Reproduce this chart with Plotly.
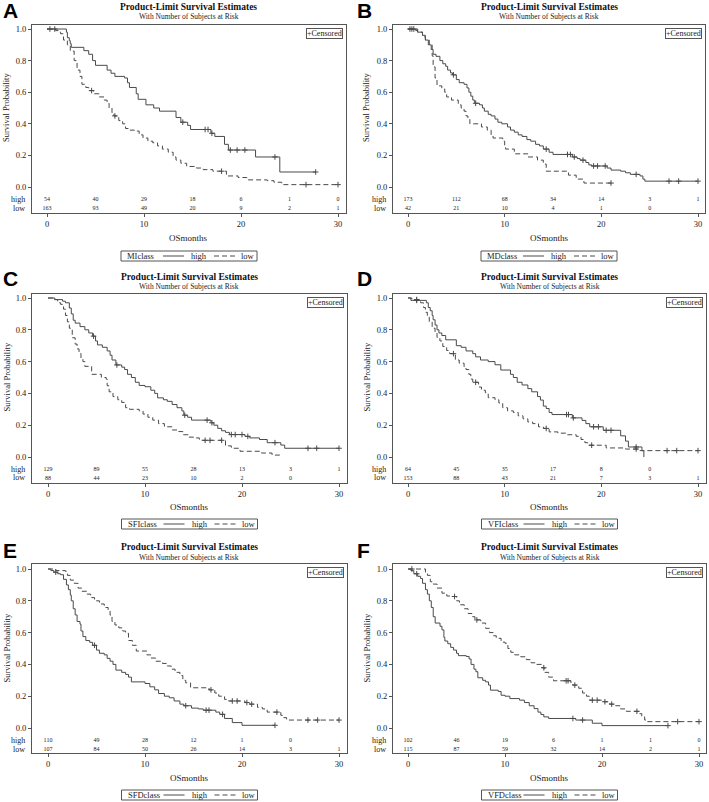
import plotly.graph_objects as go

W, H = 709, 802

# ---------------- data ----------------
panel_letters = ["A", "B", "C", "D", "E", "F"]
class_names = ["MIclass", "MDclass", "SFIclass", "VFIclass", "SFDclass", "VFDclass"]
group_labels = ["high", "low"]
risk_times = [0, 5, 10, 15, 20, 25, 30]
y_ticks = [0.0, 0.2, 0.4, 0.6, 0.8, 1.0]
x_ticks = [0, 10, 20, 30]

# Panel A (MIclass)
A_high_t = [2.0, 2.1, 2.3, 2.4, 2.5, 3.8, 4.3, 4.7, 5.0, 6.2, 6.6, 7.0, 8.0, 8.3, 8.5, 9.2, 9.4, 10.2, 11.0, 11.6,
            13.3, 13.8, 14.5, 14.8, 16.9, 17.3, 18.3, 18.7, 21.5, 24.0]
A_high_s = [0.98, 0.945, 0.926, 0.907, 0.884, 0.863, 0.84, 0.80, 0.77, 0.74, 0.72, 0.70, 0.69, 0.66, 0.63, 0.59, 0.555,
            0.52, 0.50, 0.48, 0.44, 0.41, 0.39, 0.364, 0.34, 0.32, 0.27, 0.234, 0.19, 0.095]
A_high_end = 27.7
A_high_cens = [0.3, 0.8, 14.0, 16.3, 16.6, 17.0, 18.9, 19.6, 20.4, 23.5, 27.7]
A_low_t = [0.9, 1.2, 1.4, 1.7, 2.1, 2.4, 2.8, 3.1, 3.4, 3.6, 4.0, 4.3, 4.8, 5.4, 5.9, 6.2, 6.4, 6.7, 6.9, 7.4, 7.8,
           8.1, 8.5, 9.0, 9.5, 9.9, 10.4, 10.9, 11.4, 11.9, 12.5, 13.0, 13.3, 13.8, 14.4, 15.4, 16.1, 17.1, 18.5,
           19.7, 20.6, 22.7, 23.4, 24.2]
A_low_s = [0.99, 0.98, 0.97, 0.93, 0.90, 0.86, 0.80, 0.74, 0.70, 0.65, 0.63, 0.61, 0.59, 0.57, 0.55, 0.53, 0.50, 0.47,
           0.45, 0.42, 0.40, 0.37, 0.36, 0.354, 0.33, 0.31, 0.29, 0.28, 0.26, 0.24, 0.22, 0.19, 0.17, 0.15, 0.13,
           0.12, 0.11, 0.10, 0.07, 0.06, 0.045, 0.04, 0.03, 0.015]
A_low_end = 30.0
A_low_cens = [4.6, 7.0, 18.0, 26.7, 30.0]
A_risk_high = [54, 40, 29, 18, 6, 1, 0]
A_risk_low = [163, 93, 49, 20, 9, 2, 1]

# Panel B (MDclass)
B_high_t = [0.8, 1.0, 1.5, 1.8, 2.1, 2.4, 2.6, 2.9, 3.3, 3.6, 3.9, 4.1, 4.4, 4.6, 5.0, 5.3, 5.8, 6.1, 6.3, 6.5, 6.7,
            6.9, 7.4, 7.7, 7.9, 8.3, 8.6, 9.0, 9.3, 9.7, 10.3, 10.6, 11.0, 11.4, 11.8, 12.3, 12.7, 13.2, 13.6, 14.0,
            14.6, 15.0, 17.0, 17.5, 17.8, 18.4, 18.7, 19.0, 20.6, 21.0, 22.0, 22.5, 23.0, 24.0, 24.3, 24.5]
B_high_s = [0.99, 0.98, 0.96, 0.93, 0.90, 0.87, 0.84, 0.827, 0.80, 0.78, 0.764, 0.74, 0.722, 0.71, 0.68, 0.66, 0.65,
            0.627, 0.60, 0.575, 0.55, 0.53, 0.52, 0.50, 0.48, 0.46, 0.45, 0.43, 0.41, 0.40, 0.38, 0.36, 0.347, 0.33,
            0.32, 0.30, 0.29, 0.27, 0.26, 0.24, 0.22, 0.206, 0.19, 0.18, 0.17, 0.155, 0.14, 0.133, 0.12, 0.107, 0.10,
            0.09, 0.08, 0.07, 0.05, 0.037]
B_high_end = 30.0
B_high_cens = [0.2, 0.4, 0.6, 4.7, 7.0, 14.3, 16.5, 16.8, 17.2, 18.1, 19.2, 19.6, 20.4, 23.6, 27.0, 28.0, 30.0]
B_low_t = [1.0, 1.5, 1.8, 2.2, 2.5, 2.6, 2.8, 3.0, 3.5, 3.8, 4.0, 4.5, 5.2, 5.5, 5.8, 6.0, 6.2, 6.4, 7.6, 8.2, 8.6,
           8.8, 9.8, 10.0, 10.1, 11.0, 12.4, 13.4, 14.0, 14.3, 16.6, 17.4, 18.2]
B_low_s = [0.98, 0.95, 0.93, 0.90, 0.83, 0.76, 0.69, 0.64, 0.62, 0.60, 0.57, 0.55, 0.52, 0.50, 0.48, 0.45, 0.43, 0.40,
           0.38, 0.36, 0.33, 0.31, 0.29, 0.26, 0.24, 0.21, 0.19, 0.17, 0.145, 0.10, 0.075, 0.05, 0.025]
B_low_end = 21.0
B_low_cens = [21.0]
B_risk_high = [173, 112, 68, 34, 14, 3, 1]
B_risk_low = [42, 21, 10, 4, 1, 0]

# Panel C (SFIclass)
C_high_t = [0.7, 1.5, 1.8, 2.2, 2.4, 2.6, 2.8, 3.3, 3.8, 4.2, 4.6, 4.9, 5.1, 5.6, 6.1, 6.4, 6.6, 7.0, 7.6, 7.9, 8.2,
            8.6, 9.0, 9.4, 10.0, 10.6, 11.0, 11.3, 11.9, 12.3, 12.8, 13.3, 13.8, 14.0, 14.4, 14.8, 16.8, 17.1, 17.5,
            17.9, 18.3, 18.7, 20.3, 20.8, 21.8, 22.6, 24.0, 24.4]
C_high_s = [0.99, 0.98, 0.97, 0.937, 0.90, 0.86, 0.842, 0.82, 0.80, 0.78, 0.76, 0.73, 0.705, 0.69, 0.667, 0.64, 0.61,
            0.579, 0.565, 0.55, 0.52, 0.50, 0.47, 0.45, 0.442, 0.42, 0.40, 0.372, 0.36, 0.35, 0.33, 0.31, 0.29, 0.263,
            0.25, 0.232, 0.215, 0.20, 0.18, 0.165, 0.155, 0.141, 0.13, 0.12, 0.11, 0.09, 0.075, 0.055]
C_high_end = 30.0
C_high_cens = [4.7, 7.1, 14.1, 16.4, 16.9, 18.9, 19.3, 20.0, 20.6, 23.4, 26.8, 27.7, 30.0]
C_low_t = [0.5, 1.0, 1.3, 1.6, 1.8, 2.0, 2.2, 2.5, 2.8, 3.0, 3.2, 3.4, 3.6, 3.8, 4.5, 5.5, 6.0, 6.1, 6.3, 6.7, 7.2,
           7.6, 8.0, 8.4, 9.4, 9.8, 10.3, 10.8, 11.4, 12.0, 12.8, 13.4, 13.9, 14.5, 15.0, 15.6, 18.3, 18.9, 19.8,
           22.0, 23.1]
C_low_s = [0.99, 0.97, 0.96, 0.93, 0.89, 0.85, 0.81, 0.75, 0.71, 0.68, 0.652, 0.62, 0.60, 0.57, 0.52, 0.50, 0.49,
           0.448, 0.41, 0.38, 0.36, 0.343, 0.31, 0.30, 0.29, 0.27, 0.25, 0.232, 0.21, 0.19, 0.17, 0.16, 0.14, 0.125,
           0.12, 0.105, 0.07, 0.055, 0.036, 0.025, 0.012]
C_low_end = 23.9
C_low_cens = [16.2, 16.7, 17.9]
C_risk_high = [129, 89, 55, 28, 13, 3, 1]
C_risk_low = [88, 44, 23, 10, 2, 0]

# Panel D (VFIclass)
D_high_t = [0.3, 1.9, 2.1, 2.3, 2.5, 2.6, 2.8, 3.0, 3.2, 3.5, 3.9, 5.0, 5.5, 6.0, 6.7, 7.0, 7.5, 8.3, 9.0, 9.6, 10.6,
            10.9, 11.3, 11.8, 12.4, 12.8, 13.4, 13.7, 14.0, 14.3, 14.6, 14.9, 17.0, 18.0, 18.4, 18.8, 20.2, 22.0,
            22.5, 22.8, 24.2, 24.4]
D_high_s = [0.985, 0.97, 0.94, 0.92, 0.89, 0.863, 0.83, 0.80, 0.78, 0.764, 0.737, 0.70, 0.69, 0.667, 0.65, 0.63, 0.61,
            0.60, 0.58, 0.547, 0.52, 0.50, 0.47, 0.453, 0.43, 0.41, 0.38, 0.358, 0.32, 0.305, 0.28, 0.267, 0.246,
            0.23, 0.21, 0.19, 0.168, 0.133, 0.10, 0.063, 0.04, 0.0]
D_high_end = 24.4
D_high_cens = [0.9, 16.4, 16.6, 17.1, 19.2, 19.7, 20.5, 21.0, 23.6]
D_low_t = [0.4, 1.3, 1.6, 1.8, 2.0, 2.2, 2.5, 2.8, 3.0, 3.3, 3.6, 4.0, 4.3, 4.9, 5.3, 5.8, 6.0, 6.3, 6.5, 6.7, 7.3,
           7.6, 8.0, 8.3, 9.0, 9.4, 9.8, 10.3, 10.9, 11.4, 11.9, 12.4, 12.9, 13.5, 14.0, 14.6, 15.5, 16.5, 17.4,
           17.9, 18.3, 18.6, 20.5, 22.5, 24.0]
D_low_s = [0.99, 0.97, 0.94, 0.91, 0.88, 0.85, 0.81, 0.78, 0.752, 0.73, 0.695, 0.67, 0.65, 0.61, 0.59, 0.568, 0.55,
           0.52, 0.49, 0.47, 0.44, 0.42, 0.404, 0.373, 0.36, 0.34, 0.31, 0.29, 0.28, 0.259, 0.24, 0.22, 0.21, 0.19,
           0.18, 0.158, 0.15, 0.14, 0.13, 0.11, 0.09, 0.074, 0.057, 0.05, 0.04]
D_low_end = 30.0
D_low_cens = [0.9, 4.7, 7.0, 14.3, 19.0, 23.6, 26.8, 27.8, 30.0]
D_risk_high = [64, 45, 35, 17, 8, 0]
D_risk_low = [153, 88, 43, 21, 7, 3, 1]

# Panel E (SFDclass)
E_high_t = [0.3, 0.6, 1.0, 1.3, 1.6, 1.9, 2.1, 2.3, 2.4, 2.6, 2.8, 3.0, 3.3, 3.4, 3.6, 3.9, 4.3, 4.6, 5.0, 5.3, 5.8,
            6.1, 6.4, 6.7, 7.0, 7.6, 8.0, 8.3, 8.6, 10.0, 10.5, 11.0, 11.4, 12.0, 12.5, 13.0, 13.6, 14.0, 14.8, 15.5,
            16.0, 17.3, 17.7, 18.2, 19.0, 20.0]
E_high_s = [0.99, 0.98, 0.97, 0.964, 0.935, 0.90, 0.87, 0.836, 0.80, 0.75, 0.711, 0.67, 0.653, 0.61, 0.575, 0.55,
            0.539, 0.52, 0.49, 0.47, 0.46, 0.438, 0.42, 0.40, 0.364, 0.35, 0.337, 0.32, 0.29, 0.28, 0.259, 0.24,
            0.217, 0.20, 0.19, 0.17, 0.15, 0.14, 0.125, 0.12, 0.112, 0.10, 0.086, 0.06, 0.034, 0.017]
E_high_end = 23.4
E_high_cens = [0.8, 4.8, 14.2, 16.3, 16.6, 18.0, 23.4]
E_low_t = [0.8, 1.8, 2.0, 2.3, 2.7, 3.1, 3.5, 4.0, 4.4, 4.8, 5.3, 5.8, 6.2, 6.4, 6.6, 6.9, 7.3, 7.7, 8.0, 8.3, 8.7,
           9.1, 10.2, 10.6, 11.1, 11.8, 12.3, 12.7, 13.1, 13.6, 13.9, 14.2, 14.7, 16.6, 17.2, 17.6, 18.2, 18.6, 20.3,
           20.8, 21.6, 22.1, 22.6, 24.0, 24.3, 24.6]
E_low_s = [0.99, 0.985, 0.96, 0.93, 0.91, 0.88, 0.86, 0.842, 0.82, 0.80, 0.78, 0.758, 0.74, 0.71, 0.67, 0.648, 0.63,
           0.61, 0.596, 0.55, 0.52, 0.484, 0.46, 0.44, 0.42, 0.406, 0.39, 0.37, 0.35, 0.33, 0.30, 0.284, 0.253, 0.24,
           0.22, 0.20, 0.18, 0.17, 0.16, 0.15, 0.13, 0.12, 0.10, 0.08, 0.065, 0.05]
E_low_end = 30.0
E_low_cens = [16.8, 19.0, 19.5, 20.5, 21.0, 23.6, 26.8, 27.8, 30.0]
E_risk_high = [110, 49, 28, 12, 1, 0]
E_risk_low = [107, 84, 50, 26, 14, 3, 1]

# Panel F (VFDclass)
F_high_t = [0.3, 0.6, 1.0, 1.3, 1.5, 1.8, 2.0, 2.2, 2.4, 2.6, 2.8, 3.3, 3.5, 3.7, 3.8, 4.1, 4.4, 4.7, 5.0, 5.2, 6.0,
            6.3, 6.5, 6.8, 7.0, 7.2, 7.7, 8.0, 8.3, 8.5, 9.3, 9.6, 10.0, 10.5, 11.5, 12.0, 12.5, 13.0, 13.4, 13.7,
            14.0, 14.5, 17.3, 19.0, 20.0]
F_high_s = [0.99, 0.97, 0.954, 0.94, 0.91, 0.87, 0.842, 0.80, 0.758, 0.70, 0.66, 0.64, 0.617, 0.57, 0.547, 0.53, 0.507,
            0.49, 0.47, 0.455, 0.45, 0.434, 0.40, 0.37, 0.354, 0.316, 0.30, 0.29, 0.27, 0.238, 0.23, 0.206, 0.20,
            0.185, 0.175, 0.16, 0.14, 0.122, 0.10, 0.085, 0.07, 0.06, 0.05, 0.03, 0.015]
F_high_end = 26.8
F_high_cens = [0.9, 17.0, 18.0, 26.8]
F_low_t = [1.8, 2.0, 2.3, 2.6, 3.0, 3.5, 4.0, 4.5, 5.0, 5.3, 5.8, 6.2, 6.6, 6.9, 7.5, 8.0, 8.4, 8.8, 9.1, 9.6, 10.0,
           10.3, 10.6, 11.0, 11.6, 12.2, 12.7, 13.2, 13.8, 14.1, 14.5, 15.0, 16.8, 17.0, 17.6, 18.0, 18.4, 18.7, 20.2,
           20.8, 21.4, 21.9, 22.5, 23.9, 24.1, 24.4, 24.6]
F_low_s = [0.98, 0.96, 0.92, 0.905, 0.88, 0.848, 0.83, 0.827, 0.80, 0.775, 0.75, 0.72, 0.70, 0.68, 0.66, 0.627, 0.60,
           0.58, 0.564, 0.54, 0.533, 0.50, 0.476, 0.46, 0.448, 0.43, 0.41, 0.40, 0.379, 0.35, 0.32, 0.297, 0.28, 0.27,
           0.25, 0.22, 0.20, 0.175, 0.165, 0.15, 0.14, 0.12, 0.105, 0.09, 0.07, 0.05, 0.04]
F_low_end = 30.0
F_low_cens = [0.4, 4.8, 7.1, 14.0, 16.3, 16.5, 17.2, 19.0, 19.5, 20.3, 21.0, 23.6, 27.8, 30.0]
F_risk_high = [102, 46, 19, 6, 1, 1, 0]
F_risk_low = [115, 87, 59, 32, 14, 2, 1]

CURVES = {
    "A": [(A_high_t, A_high_s, A_high_end, A_high_cens), (A_low_t, A_low_s, A_low_end, A_low_cens)],
    "B": [(B_high_t, B_high_s, B_high_end, B_high_cens), (B_low_t, B_low_s, B_low_end, B_low_cens)],
    "C": [(C_high_t, C_high_s, C_high_end, C_high_cens), (C_low_t, C_low_s, C_low_end, C_low_cens)],
    "D": [(D_high_t, D_high_s, D_high_end, D_high_cens), (D_low_t, D_low_s, D_low_end, D_low_cens)],
    "E": [(E_high_t, E_high_s, E_high_end, E_high_cens), (E_low_t, E_low_s, E_low_end, E_low_cens)],
    "F": [(F_high_t, F_high_s, F_high_end, F_high_cens), (F_low_t, F_low_s, F_low_end, F_low_cens)],
}
RISK = {
    "A": (A_risk_high, A_risk_low), "B": (B_risk_high, B_risk_low), "C": (C_risk_high, C_risk_low),
    "D": (D_risk_high, D_risk_low), "E": (E_risk_high, E_risk_low), "F": (F_risk_high, F_risk_low),
}

# ---------------- layout geometry (pixels) ----------------
GEOM = {
    "A": dict(L=32, R=346, T=25, B=213, x0=47, x30=338, y1=29, y0=187, title=7, sub=17, xlab=238, legT=251, ylab=6, letter=(1, 11)),
    "B": dict(L=393, R=705, T=25, B=213, x0=408, x30=698, y1=29, y0=187, title=7, sub=17, xlab=238, legT=251, ylab=366, letter=(355, 11)),
    "C": dict(L=32, R=347, T=294, B=483, x0=48, x30=339, y1=298, y0=457, title=277, sub=286, xlab=507, legT=519, ylab=6, letter=(1, 278)),
    "D": dict(L=393, R=706, T=294, B=483, x0=408, x30=698, y1=298, y0=457, title=277, sub=286, xlab=507, legT=519, ylab=366, letter=(355, 278)),
    "E": dict(L=32, R=347, T=564, B=753, x0=48, x30=339, y1=569, y0=728, title=547, sub=557, xlab=778, legT=790, ylab=6, letter=(1, 550)),
    "F": dict(L=393, R=706, T=564, B=753, x0=408, x30=699, y1=569, y0=728, title=547, sub=557, xlab=778, legT=790, ylab=366, letter=(355, 550)),
}

LINE_C = "#4a4a4a"
FRAME_C = "#555555"
TXT_C = "#222222"
SERIF = "Liberation Serif"


def px(xp):
    return xp / W


def py(yp):
    return 1 - yp / H


def surv_at(t, times, surv):
    s = 1.0
    for ti, si in zip(times, surv):
        if ti <= t:
            s = si
        else:
            break
    return s


fig = go.Figure()
annotations = []
shapes = []
layout_axes = {}

for i, key in enumerate(panel_letters):
    g = GEOM[key]
    n = "" if i == 0 else str(i + 1)
    xa, ya = "x" + n, "y" + n
    xs = (g["x30"] - g["x0"]) / 30.0
    ys = float(g["y0"] - g["y1"])
    xr = [(g["L"] - g["x0"]) / xs, (g["R"] - g["x0"]) / xs]
    yr = [-(g["B"] - g["y0"]) / ys, (g["y0"] - g["T"]) / ys]

    layout_axes["xaxis" + n] = dict(
        domain=[px(g["L"]), px(g["R"])], range=xr, anchor=ya, tickvals=x_ticks,
        ticks="outside", ticklen=3, tickcolor=FRAME_C, showline=True, mirror=True,
        linecolor=FRAME_C, linewidth=1, showgrid=False, zeroline=False,
        tickfont=dict(family=SERIF, size=8.5, color=TXT_C), fixedrange=True)
    layout_axes["yaxis" + n] = dict(
        domain=[py(g["B"]), py(g["T"])], range=yr, anchor=xa, tickvals=y_ticks,
        tickformat=".1f", ticks="outside", ticklen=3, tickcolor=FRAME_C, showline=True,
        mirror=True, linecolor=FRAME_C, linewidth=1, showgrid=False, zeroline=False,
        tickfont=dict(family=SERIF, size=8.5, color=TXT_C), fixedrange=True)

    for gi, (times, surv, end, cens) in enumerate(CURVES[key]):
        dash = "solid" if gi == 0 else "5px,3px"
        fig.add_trace(go.Scatter(
            x=[0.0] + times + [end], y=[1.0] + surv + [surv[-1]],
            mode="lines", line=dict(color=LINE_C, width=1, shape="hv", dash=dash),
            xaxis=xa, yaxis=ya, showlegend=False, hoverinfo="skip"))
        fig.add_trace(go.Scatter(
            x=cens, y=[surv_at(c, times, surv) for c in cens], mode="markers",
            marker=dict(symbol="cross-thin", size=4, line=dict(color=LINE_C, width=1)),
            xaxis=xa, yaxis=ya, showlegend=False, hoverinfo="skip"))

    # numbers at risk
    for gi, counts in enumerate(RISK[key]):
        yrow = -(12 if gi == 0 else 21) / ys
        fig.add_trace(go.Scatter(
            x=risk_times[:len(counts)], y=[yrow] * len(counts), text=[str(c) for c in counts],
            mode="text", textfont=dict(family=SERIF, size=6, color=TXT_C),
            xaxis=xa, yaxis=ya, showlegend=False, hoverinfo="skip"))
        annotations.append(dict(
            x=px(g["L"] - 5), y=py(g["y0"] + (12 if gi == 0 else 21)), xref="paper", yref="paper",
            text=group_labels[gi], showarrow=False, xanchor="right", yanchor="middle",
            font=dict(family=SERIF, size=8, color=TXT_C)))

    cx = (g["L"] + g["R"]) / 2.0
    # titles
    annotations.append(dict(x=px(cx), y=py(g["title"]), xref="paper", yref="paper",
                            text="<b>Product-Limit Survival Estimates</b>", showarrow=False,
                            xanchor="center", yanchor="middle",
                            font=dict(family=SERIF, size=9.5, color="#111111")))
    annotations.append(dict(x=px(cx), y=py(g["sub"]), xref="paper", yref="paper",
                            text="With Number of Subjects at Risk", showarrow=False,
                            xanchor="center", yanchor="middle",
                            font=dict(family=SERIF, size=7.5, color=TXT_C)))
    # axis titles
    annotations.append(dict(x=px(g["ylab"]), y=py((g["y0"] + g["y1"]) / 2.0), xref="paper", yref="paper",
                            text="Survival Probability", showarrow=False, textangle=-90,
                            xanchor="center", yanchor="middle",
                            font=dict(family=SERIF, size=8.5, color=TXT_C)))
    annotations.append(dict(x=px(cx), y=py(g["xlab"]), xref="paper", yref="paper",
                            text="OSmonths", showarrow=False, xanchor="center", yanchor="middle",
                            font=dict(family=SERIF, size=9, color=TXT_C)))
    # censored box
    annotations.append(dict(x=px(g["R"] - 3), y=py(g["T"] + 3), xref="paper", yref="paper",
                            text="+Censored", showarrow=False, xanchor="right", yanchor="top",
                            bordercolor=FRAME_C, borderwidth=1, borderpad=0, bgcolor="white",
                            font=dict(family=SERIF, size=8, color=TXT_C)))
    # panel letter
    lx, ly = g["letter"]
    annotations.append(dict(x=px(lx), y=py(ly), xref="paper", yref="paper",
                            text="<b>%s</b>" % key, showarrow=False, xanchor="left", yanchor="middle",
                            font=dict(family="Liberation Sans", size=21, color="#000000")))
    # legend box below the axis
    bw, bh = 136.0, 10.0
    bl = cx - bw / 2.0
    bt = g["legT"]
    ymid = bt + bh / 2.0
    shapes.append(dict(type="rect", xref="paper", yref="paper", x0=px(bl), x1=px(bl + bw),
                       y0=py(bt + bh), y1=py(bt), line=dict(color=FRAME_C, width=1), fillcolor="white"))
    annotations.append(dict(x=px(bl + 4), y=py(ymid), xref="paper", yref="paper",
                            text=class_names[i], showarrow=False, xanchor="left", yanchor="middle",
                            font=dict(family=SERIF, size=8.5, color=TXT_C)))
    shapes.append(dict(type="line", xref="paper", yref="paper", x0=px(bl + 42), x1=px(bl + 63),
                       y0=py(ymid), y1=py(ymid), line=dict(color=LINE_C, width=1)))
    annotations.append(dict(x=px(bl + 78), y=py(ymid), xref="paper", yref="paper",
                            text=group_labels[0], showarrow=False, xanchor="center", yanchor="middle",
                            font=dict(family=SERIF, size=8.5, color=TXT_C)))
    shapes.append(dict(type="line", xref="paper", yref="paper", x0=px(bl + 93), x1=px(bl + 115),
                       y0=py(ymid), y1=py(ymid), line=dict(color=LINE_C, width=1, dash="5px,3px")))
    annotations.append(dict(x=px(bl + 127), y=py(ymid), xref="paper", yref="paper",
                            text=group_labels[1], showarrow=False, xanchor="center", yanchor="middle",
                            font=dict(family=SERIF, size=8.5, color=TXT_C)))

fig.update_layout(
    width=W, height=H, autosize=False,
    margin=dict(l=0, r=0, t=0, b=0, pad=0),
    paper_bgcolor="white", plot_bgcolor="white",
    showlegend=False, annotations=annotations, shapes=shapes,
    **layout_axes)

fig.write_html("out.html", config={"displayModeBar": False},
               post_script="document.body.style.margin='0px';document.body.style.overflow='hidden';")
